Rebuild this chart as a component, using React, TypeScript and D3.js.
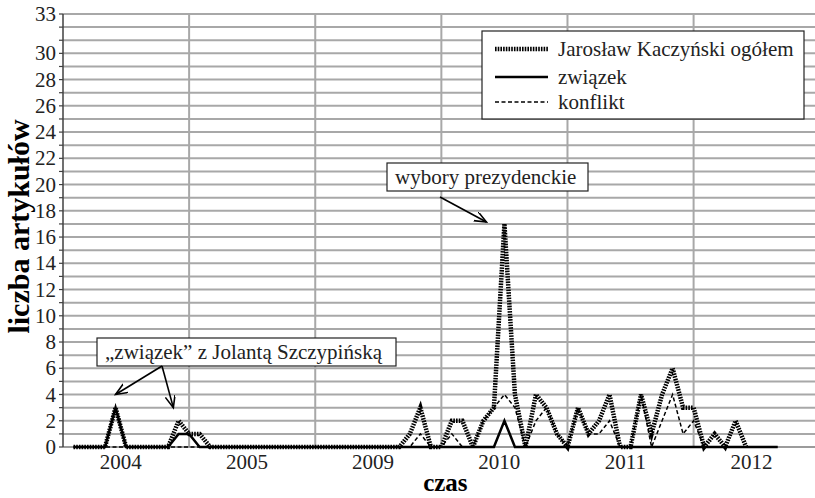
import { useRef, useEffect } from "react";
import * as d3 from "d3";

// grupy lat na osi kategorii (po 12 miesięcy)
const years = ["2004", "2005", "2009", "2010", "2011", "2012"];
const monthsPerYear = 12;

// liczba artykułów w kolejnych miesiącach
const ogolem = [
  0, 0, 0, 0, 3, 0, 0, 0, 0, 0,
  2, 1, 1, 0, 0, 0, 0, 0, 0, 0,
  0, 0, 0, 0, 0, 0, 0, 0, 0, 0,
  0, 0, 1, 3, 0, 0, 2, 2, 0, 2,
  3, 17, 4, 0, 4, 3, 1, 0, 3, 1,
  2, 4, 0, 0, 4, 1, 4, 6, 3, 3,
  0, 1, 0, 2, 0,
];
const zwiazek = [
  0, 0, 0, 0, 3, 0, 0, 0, 0, 0,
  1, 1, 0, 0, 0, 0, 0, 0, 0, 0,
  0, 0, 0, 0, 0, 0, 0, 0, 0, 0,
  0, 0, 0, 0, 0, 0, 0, 0, 0, 0,
  0, 2, 0, 0, 0, 0, 0, 0, 0, 0,
  0, 0, 0, 0, 0, 0, 0, 0, 0, 0,
  0, 0, 0, 0, 0, 0, 0, 0,
];
const konflikt = [
  0, 0, 0, 0, 0, 0, 0, 0, 0, 0,
  0, 0, 0, 0, 0, 0, 0, 0, 0, 0,
  0, 0, 0, 0, 0, 0, 0, 0, 0, 0,
  0, 0, 0, 1, 0, 0, 1, 0, 0, 2,
  3, 4, 3, 0, 2, 3, 1, 0, 3, 1,
  1, 2, 0, 0, 4, 0, 2, 4, 1, 2,
  0, 0, 0, 0, 0, 0, 0, 0,
];

const yTicks = [0, 2, 4, 6, 8, 10, 12, 14, 16, 18, 20, 22, 24, 26, 28, 30, 33];
const yMax = 33;

const legendNames = ["Jarosław Kaczyński ogółem", "związek", "konflikt"];

const W = 815;
const H = 498;
const FONT = "'Liberation Serif', 'Times New Roman', serif";

const App = () => {
  const svgRef = useRef<SVGSVGElement>(null);

  useEffect(() => {
    if (!svgRef.current) return;
    const svg = d3.select(svgRef.current);
    svg.selectAll("*").remove();

    const left = 63;
    const top = 14;
    const bottom = 447;
    const nCat = years.length * monthsPerYear;
    const step = 10.51;

    const x = d3
      .scaleLinear()
      .domain([-1, nCat - 1])
      .range([left, left + nCat * step]);
    const y = d3.scaleLinear().domain([0, yMax]).range([bottom, top]);

    // markery strzałek
    svg
      .append("defs")
      .append("marker")
      .attr("id", "arrow")
      .attr("markerUnits", "userSpaceOnUse")
      .attr("markerWidth", 14)
      .attr("markerHeight", 12)
      .attr("refX", 12)
      .attr("refY", 5)
      .attr("orient", "auto")
      .append("path")
      .attr("d", "M0,0 L12,5 L0,10")
      .attr("fill", "none")
      .attr("stroke", "#000")
      .attr("stroke-width", 1.6);

    //  Siatka
    const grid = svg.append("g").attr("stroke", "#a8a8a8").attr("stroke-width", 2);
    grid
      .selectAll("line.h")
      .data(d3.range(1, yMax + 1))
      .join("line")
      .attr("x1", left)
      .attr("x2", W)
      .attr("y1", (d) => y(d))
      .attr("y2", (d) => y(d));
    grid
      .selectAll("line.v")
      .data(years.slice(1).map((_, k) => (k + 1) * monthsPerYear - 1))
      .join("line")
      .attr("x1", (d) => x(d))
      .attr("x2", (d) => x(d))
      .attr("y1", top)
      .attr("y2", bottom);

    //  Osie
    svg
      .append("line")
      .attr("x1", left)
      .attr("x2", W)
      .attr("y1", bottom)
      .attr("y2", bottom)
      .attr("stroke", "#7a7a7a")
      .attr("stroke-width", 1.5);
    svg
      .append("line")
      .attr("x1", left)
      .attr("x2", left)
      .attr("y1", top)
      .attr("y2", bottom)
      .attr("stroke", "#404040")
      .attr("stroke-width", 1.5);
    svg
      .append("g")
      .attr("stroke", "#404040")
      .attr("stroke-width", 1.2)
      .selectAll("line")
      .data(d3.range(0, yMax + 1))
      .join("line")
      .attr("x1", left - 4)
      .attr("x2", left)
      .attr("y1", (d) => y(d))
      .attr("y2", (d) => y(d));

    svg
      .append("g")
      .attr("font-family", FONT)
      .attr("font-size", 21)
      .attr("fill", "#222")
      .attr("text-anchor", "end")
      .selectAll("text")
      .data(yTicks)
      .join("text")
      .attr("x", left - 7)
      .attr("y", (d) => y(d) + 7)
      .text((d) => d);

    svg
      .append("g")
      .attr("font-family", FONT)
      .attr("font-size", 21)
      .attr("fill", "#222")
      .attr("text-anchor", "middle")
      .selectAll("text")
      .data(years)
      .join("text")
      .attr("x", (_, k) => x(k * monthsPerYear + 4.5))
      .attr("y", bottom + 22)
      .text((d) => d);

    svg
      .append("text")
      .attr("x", (left + x(nCat - 1)) / 2 + 4)
      .attr("y", 491)
      .attr("font-family", FONT)
      .attr("font-size", 25)
      .attr("font-weight", "bold")
      .attr("text-anchor", "middle")
      .text("czas");

    svg
      .append("text")
      .attr("transform", `translate(29,${(top + bottom) / 2 - 4}) rotate(-90)`)
      .attr("font-family", FONT)
      .attr("font-size", 30)
      .attr("font-weight", "bold")
      .attr("text-anchor", "middle")
      .text("liczba artykułów");

    //  Serie
    const line = d3
      .line<number>()
      .x((_, i) => x(i))
      .y((d) => y(d));

    const styles = [
      { data: ogolem, width: 4.5, dash: "1.6,1.1" },
      { data: zwiazek, width: 2.5, dash: null },
      { data: konflikt, width: 1.5, dash: "4,2.5" },
    ];

    svg
      .append("g")
      .attr("fill", "none")
      .attr("stroke", "#000")
      .selectAll("path")
      .data(styles)
      .join("path")
      .attr("d", (s) => line(s.data))
      .attr("stroke-width", (s) => s.width)
      .attr("stroke-dasharray", (s) => s.dash)
      .attr("stroke-linejoin", "miter");

    //  Legenda
    const lg = svg.append("g").attr("transform", "translate(482,31)");
    lg.append("rect")
      .attr("width", 322)
      .attr("height", 88)
      .attr("fill", "#fff")
      .attr("stroke", "#222")
      .attr("stroke-width", 1.2);
    const rows = lg
      .selectAll("g")
      .data(styles)
      .join("g")
      .attr("transform", (_, i) => `translate(0,${[18, 46, 71][i]})`);
    rows
      .append("line")
      .attr("x1", 13)
      .attr("x2", 66)
      .attr("stroke", "#000")
      .attr("stroke-width", (s) => s.width)
      .attr("stroke-dasharray", (s) => s.dash);
    rows
      .append("text")
      .attr("x", 76)
      .attr("y", 7)
      .attr("font-family", FONT)
      .attr("font-size", 21)
      .attr("fill", "#222")
      .text((_, i) => legendNames[i]);

    //  Adnotacje
    const note = (bx: number, by: number, bw: number, label: string) => {
      svg
        .append("rect")
        .attr("x", bx)
        .attr("y", by)
        .attr("width", bw)
        .attr("height", 28)
        .attr("fill", "#fff")
        .attr("stroke", "#222")
        .attr("stroke-width", 1.2);
      svg
        .append("text")
        .attr("x", bx + 8)
        .attr("y", by + 21)
        .attr("font-family", FONT)
        .attr("font-size", 21)
        .attr("fill", "#222")
        .text(label);
    };
    const arrow = (x1: number, y1: number, x2: number, y2: number) => {
      svg
        .append("line")
        .attr("x1", x1)
        .attr("y1", y1)
        .attr("x2", x2)
        .attr("y2", y2)
        .attr("stroke", "#000")
        .attr("stroke-width", 1.6)
        .attr("marker-end", "url(#arrow)");
    };

    note(97, 338, 299, "„związek” z Jolantą Szczypińską");
    arrow(162, 366, x(4), y(4));
    arrow(162, 366, x(9.5), y(3));

    note(387, 163, 201, "wybory prezydenckie");
    arrow(440, 197, x(41) - 18, y(17) - 2);
  }, []);

  return (
    <svg
      ref={svgRef}
      width={W}
      height={H}
      style={{ position: "absolute", left: 0, top: 0, background: "#fff" }}
    />
  );
};

export default App;
